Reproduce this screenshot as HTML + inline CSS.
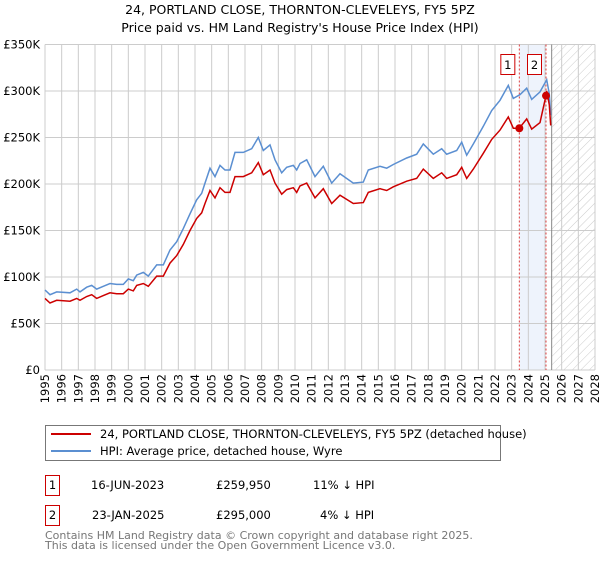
<!DOCTYPE html>
<html><head><meta charset="utf-8"><style>
body{margin:0;background:#fff;width:600px;height:560px;overflow:hidden;font-family:"Liberation Sans","DejaVu Sans",sans-serif}
svg text{font-family:"DejaVu Sans","Liberation Sans",sans-serif}
</style></head><body>
<svg id="chart" width="600" height="560" xmlns="http://www.w3.org/2000/svg">
<defs><pattern id="hatch" width="6" height="6" patternUnits="userSpaceOnUse" patternTransform="rotate(45)"><line x1="0" y1="0" x2="0" y2="6" stroke="#ccc" stroke-width="1"/></pattern></defs>
<text x="300" y="14" font-size="12.5" text-anchor="middle">24, PORTLAND CLOSE, THORNTON-CLEVELEYS, FY5 5PZ</text>
<text x="300" y="32" font-size="12.5" text-anchor="middle">Price paid vs. HM Land Registry's House Price Index (HPI)</text>
<g id="grid"></g>
<g id="marks"></g>
<g>
<rect x="45.5" y="425.5" width="455" height="35" fill="#fff" stroke="#777"/>
<line x1="51" y1="434" x2="91" y2="434" stroke="#cc0000" stroke-width="2"/>
<text x="100" y="438" font-size="11.5">24, PORTLAND CLOSE, THORNTON-CLEVELEYS, FY5 5PZ (detached house)</text>
<line x1="51" y1="451" x2="91" y2="451" stroke="#5b8fd1" stroke-width="2"/>
<text x="100" y="455" font-size="11.5">HPI: Average price, detached house, Wyre</text>
</g>
<g font-size="11.5">
<rect x="45.5" y="475.5" width="14" height="20" fill="#fff" stroke="#cc0000"/><text x="52.5" y="489" text-anchor="middle">1</text>
<text x="91" y="489">16-JUN-2023</text><text x="216" y="489">£259,950</text><text x="313" y="489">11% ↓ HPI</text></g>
<g font-size="11.5">
<rect x="45.5" y="505.5" width="14" height="20" fill="#fff" stroke="#cc0000"/><text x="52.5" y="519" text-anchor="middle">2</text>
<text x="92" y="519">23-JAN-2025</text><text x="216" y="519">£295,000</text><text x="320" y="519">4% ↓ HPI</text></g>
<text font-size="11" fill="#777" x="45" y="539">Contains HM Land Registry data © Crown copyright and database right 2025.</text>
<text font-size="11" fill="#777" x="45" y="549">This data is licensed under the Open Government Licence v3.0.</text>
</svg>
<script>
const hpiYears=[1995.0,1995.3,1995.7,1996.5,1996.9,1997.1,1997.5,1997.8,1998.1,1998.5,1998.9,1999.3,1999.7,2000.0,2000.3,2000.5,2000.9,2001.2,2001.7,2002.1,2002.5,2002.9,2003.3,2003.7,2004.1,2004.4,2004.6,2004.9,2005.2,2005.5,2005.8,2006.1,2006.4,2006.9,2007.4,2007.8,2008.1,2008.5,2008.8,2009.2,2009.5,2009.9,2010.1,2010.3,2010.7,2011.2,2011.7,2012.2,2012.7,2013.5,2014.1,2014.4,2015.1,2015.5,2015.9,2016.7,2017.3,2017.7,2018.3,2018.8,2019.1,2019.7,2020.0,2020.3,2020.7,2021.3,2021.8,2022.3,2022.8,2023.1,2023.5,2023.9,2024.2,2024.7,2025.1,2025.26,2025.34];
const hpiValues=[86,81,84,83,87,84,89,91,87,90,93,92,92,98,96,102,105,101,113,113,129,138,152,168,183,190,201,217,208,220,215,215,234,234,238,250,236,242,226,212,218,220,215,222,226,208,219,201,211,201,202,215,219,217,221,228,232,243,232,238,232,236,245,231,243,262,279,290,306,292,296,303,291,299,312,297,274];
const priceYears=[1995.0,1995.3,1995.7,1996.5,1996.9,1997.1,1997.5,1997.8,1998.1,1998.5,1998.9,1999.3,1999.7,2000.0,2000.3,2000.5,2000.9,2001.2,2001.7,2002.1,2002.5,2002.9,2003.3,2003.7,2004.1,2004.4,2004.6,2004.9,2005.2,2005.5,2005.8,2006.1,2006.4,2006.9,2007.4,2007.8,2008.1,2008.5,2008.8,2009.2,2009.5,2009.9,2010.1,2010.3,2010.7,2011.2,2011.7,2012.2,2012.7,2013.5,2014.1,2014.4,2015.1,2015.5,2015.9,2016.7,2017.3,2017.7,2018.3,2018.8,2019.1,2019.7,2020.0,2020.3,2020.7,2021.3,2021.8,2022.3,2022.8,2023.1,2023.46,2023.9,2024.2,2024.7,2025.06,2025.1,2025.26,2025.34];
const priceValues=[77,72,75,74,77,75,79,81,77,80,83,82,82,87,85,91,93,90,101,101,115,123,135,150,163,169,179,193,185,196,191,191,208,208,212,223,210,215,201,189,194,196,191,198,201,185,195,179,188,179,180,191,195,193,197,203,206,216,206,212,206,210,218,206,216,233,248,258,272,260,259.95,270,259,266,295,300,285,263];
const sales=[{n:"1",year:2023.46,value:259.95},{n:"2",year:2025.06,value:295}];
const yTicks=[0,50,100,150,200,250,300,350];
const yTickLabels=["£0","£50K","£100K","£150K","£200K","£250K","£300K","£350K"];
const xTicks=[1995,1996,1997,1998,1999,2000,2001,2002,2003,2004,2005,2006,2007,2008,2009,2010,2011,2012,2013,2014,2015,2016,2017,2018,2019,2020,2021,2022,2023,2024,2025,2026,2027,2028];
const X0=45,X1=595,Y0=370,Y1=44.5,XMIN=1995,XMAX=2028,YMAX=350,FUT=2025.4;
const xs=y=>X0+(y-XMIN)/(XMAX-XMIN)*(X1-X0);
const ys=v=>Y0-v/YMAX*(Y0-Y1);
const NS="http://www.w3.org/2000/svg";
function mk(tag,attrs,parent){const e=document.createElementNS(NS,tag);for(const k in attrs)e.setAttribute(k,attrs[k]);parent.appendChild(e);return e;}
const grid=document.getElementById('grid'),marks=document.getElementById('marks');
let r=mk('rect',{x:xs(sales[0].year),y:Y1,width:xs(sales[1].year)-xs(sales[0].year),height:Y0-Y1,fill:'#eef3fc'},grid);


r=mk('rect',{x:xs(FUT),y:Y1,width:X1-xs(FUT),height:Y0-Y1,fill:'url(#hatch)'},grid);


xTicks.forEach(t=>{
 const l=mk('line',{x1:xs(t),x2:xs(t),y1:Y1,y2:Y0,stroke:'#ccc','stroke-width':1},grid);
 
 
 const tx=mk('text',{x:0,y:0,'font-size':11.5,'text-anchor':'end',transform:`translate(${xs(t)+4},374) rotate(-90)`},grid);
 tx.textContent=t;
 
 
});
yTicks.forEach((t,i)=>{
 const l=mk('line',{x1:X0,x2:X1,y1:ys(t),y2:ys(t),stroke:'#ccc','stroke-width':1},grid);
 
 
 const tx=mk('text',{x:40,y:ys(t)+4,'font-size':11.5,'text-anchor':'end'},grid);
 tx.textContent=yTickLabels[i];
 
 
});
r=mk('line',{x1:xs(FUT),x2:xs(FUT),y1:Y1,y2:Y0,stroke:'#888','stroke-width':1},grid);


sales.forEach(s=>{
 const l=mk('line',{x1:xs(s.year),x2:xs(s.year),y1:Y1,y2:Y0,stroke:'#e04040','stroke-width':1,'stroke-dasharray':'2,2'},grid);
 
 
});
const path=(xa,va)=>xa.map((y,i)=>(i?'L':'M')+xs(y).toFixed(1)+','+ys(va[i]).toFixed(1)).join('');
let p=mk('path',{d:path(hpiYears,hpiValues),fill:'none',stroke:'#5b8fd1','stroke-width':1.5},marks);


p=mk('path',{d:path(priceYears,priceValues),fill:'none',stroke:'#cc0000','stroke-width':1.5},marks);


sales.forEach(s=>{
 const c=mk('circle',{cx:xs(s.year),cy:ys(s.value),r:4,fill:'#cc0000'},marks);
 
 
 const g=mk('g',{},marks);
 
 
 mk('rect',{x:xs(s.year)-18.5,y:54.5,width:14,height:20,fill:'#fff',stroke:'#cc0000'},g);
 const t=mk('text',{x:xs(s.year)-11.5,y:69,'font-size':11.5,'text-anchor':'middle'},g);
 t.textContent=s.n;
});
</script>
</body></html>
